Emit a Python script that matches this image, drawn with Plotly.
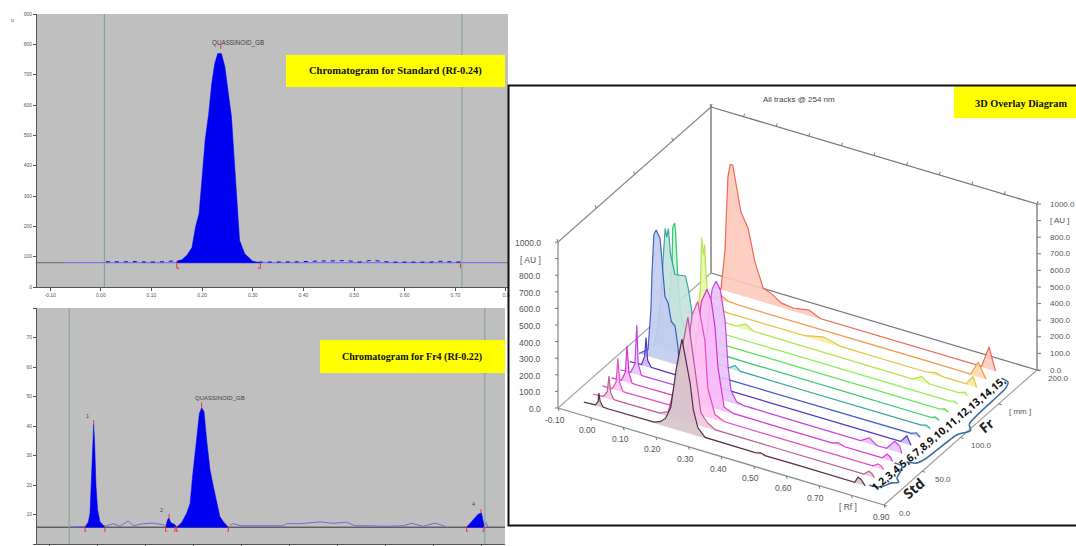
import plotly.graph_objects as go

W, H = 1076, 546

# ---------- left charts data ----------
std_tick_rf = [-0.10, 0.00, 0.10, 0.20, 0.30, 0.40, 0.50, 0.60, 0.70, 0.80]
std_tick_text = ["-0.10", "0.00", "0.10", "0.20", "0.30", "0.40", "0.50", "0.60", "0.70", "0.8"]
std_y_ticks = [0, 100, 200, 300, 400, 500, 600, 700, 800, 900]
std_limits = [0.007, 0.713]
std_base = 80
std_peak_rf = [0.15, 0.16, 0.17, 0.18, 0.187, 0.194, 0.199, 0.206, 0.213, 0.219, 0.225, 0.231, 0.238,
               0.245, 0.251, 0.258, 0.264, 0.269, 0.274, 0.284, 0.30, 0.315]
std_peak_au = [85, 90, 105, 130, 198, 242, 341, 484, 572, 671, 737, 770, 770,
               726, 649, 561, 407, 264, 154, 110, 85, 80]
std_noise_rf = [0.01, 0.03, 0.05, 0.07, 0.09, 0.12, 0.145, 0.32, 0.36, 0.39, 0.42, 0.45, 0.485, 0.51,
                0.535, 0.57, 0.61, 0.65, 0.67, 0.70, 0.715]
std_noise_au = [83, 82, 83, 84, 82, 83, 86, 82, 82, 83, 85, 86, 87, 82, 88, 82, 83, 82, 85, 82, 83]

fr_tick_rf = [-0.10, 0.00, 0.10, 0.20, 0.30, 0.40, 0.50, 0.60, 0.70, 0.80]
fr_y_ticks = [0, 100, 200, 300, 400, 500, 600, 700, 800]
fr_y_text = ["0", "10", "20", "30", "40", "50", "60", "70", ""]
fr_limits = [-0.058, 0.808]
fr_base = 57
fr_p1_rf = [-0.025, -0.018, -0.0146, -0.012, -0.009, -0.0069, -0.0049, -0.002, 0.0013, 0.006, 0.0167]
fr_p1_au = [57, 75, 105, 195, 330, 406, 341, 195, 116, 76, 57]
fr_p2_rf = [0.143, 0.147, 0.150, 0.1535, 0.1625, 0.166]
fr_p2_au = [57, 82, 88, 73, 65, 57]
fr_p3_rf = [0.166, 0.1764, 0.187, 0.194, 0.199, 0.2076, 0.2133, 0.218, 0.223, 0.2285, 0.2355, 0.2424,
            0.2493, 0.256, 0.263, 0.2736]
fr_p3_au = [57, 73, 105, 138, 228, 363, 442, 462, 448, 352, 251, 195, 138, 93, 76, 57]
fr_p4_rf = [0.770, 0.784, 0.794, 0.801, 0.805, 0.807]
fr_p4_au = [57, 82, 101, 105, 76, 57]
fr_noise_rf = [-0.053, -0.028, 0.020, 0.034, 0.048, 0.065, 0.076, 0.097, 0.117, 0.142, None,
               0.277, 0.284, 0.298, 0.326, 0.367, 0.388, 0.395, 0.423, 0.465, 0.492, 0.52, 0.5375,
               0.562, 0.603, 0.638, 0.655, 0.68, 0.704, 0.725, None, 0.805, 0.81, 0.815]
fr_noise_au = [58, 60, 62, 69, 60, 78, 62, 69, 71, 64, None,
               64, 69, 62, 62, 64, 62, 69, 69, 75, 70, 74, 62,
               62, 60, 62, 70, 60, 71, 60, None, 60, 72, 58]
fr_brackets = [(-0.025, -0.022), (0.0167, 0.014), (0.143, 0.146), (0.1625, 0.160), (0.166, 0.169), (0.2736, 0.271), (0.770, 0.773), (0.806, 0.803)]

# ---------- 3D overlay data : Rf / AU per track (front to back) ----------
rf_axis_ticks = [-0.10, 0.00, 0.10, 0.20, 0.30, 0.40, 0.50, 0.60, 0.70, 0.80, 0.90]
rf_axis_text = ["-0.10", "0.00", "0.10", "0.20", "0.30", "0.40", "0.50", "0.60", "0.70", "[ Rf ]", "0.90"]
au_axis_ticks = [0, 100, 200, 300, 400, 500, 600, 700, 800, 900, 1000]
au_axis_text = ["0.0", "100.0", "200.0", "300.0", "400.0", "500.0", "600.0", "700.0", "800.0", "[ AU ]", "1000.0"]
mm_axis_ticks = [0, 50, 100, 150, 200]
mm_axis_text = ["0.0", "50.0", "100.0", "[ mm ]", "200.0"]
track_mm = [15, 27, 39, 51, 63, 75, 87, 100, 112, 124, 136, 148.5, 160.7, 173, 185]
line_colors = ["#4a1a3a", "#b0508f", "#e040b8", "#d820c8", "#c030e0", "#4020c0", "#3050c0", "#20a090",
               "#20c060", "#40e040", "#80f040", "#b0e040", "#e0c030", "#f09040", "#ee5a40"]
fill_colors = ["#d8c4cc", "#f2c4e2", "#ffc4f2", "#f8bcf8", "#e8c4fa", "#ccb8f2", "#c2cdee", "#c4e2de",
               "#c4f2d4", "#ccf6c4", "#ddfab8", "#e6f8a8", "#f8eaa8", "#fcd8ac", "#fccabc"]

t01_rf = [-0.056, -0.03, -0.02, -0.012, -0.01, -0.006, 0.003, 0.02, 0.10, 0.16, 0.18, 0.195, 0.211, 0.227, 0.245, 0.27, 0.28, 0.294, 0.316, 0.40, 0.47, 0.487, 0.50, 0.60, 0.70, 0.775, 0.785, 0.795, 0.807]
t01_au = [0, 2, 5, 30, 82, 35, 5, 3, 4, 6, 22, 50, 127, 360, 555, 307, 150, 50, 5, 3, 3, 12, 3, 4, 3, 3, 40, 30, 0]
t02_rf = [-0.056, -0.025, -0.012, -0.007, -0.002, 0.008, 0.02, 0.10, 0.15, 0.175, 0.20, 0.226, 0.235, 0.26, 0.275, 0.296, 0.32, 0.50, 0.70, 0.775, 0.79, 0.80, 0.807]
t02_au = [0, 3, 40, 137, 40, 4, 3, 3, 6, 30, 240, 530, 633, 287, 80, 30, 4, 3, 3, 4, 30, 20, 0]
t03_rf = [-0.056, -0.025, -0.013, -0.008, -0.002, 0.008, 0.02, 0.10, 0.15, 0.175, 0.20, 0.22, 0.237, 0.259, 0.268, 0.29, 0.32, 0.50, 0.70, 0.775, 0.79, 0.80, 0.807]
t03_au = [0, 3, 50, 195, 50, 4, 3, 3, 6, 30, 280, 590, 680, 458, 175, 30, 4, 3, 3, 4, 25, 18, 0]
t04_rf = [-0.056, -0.025, -0.013, -0.008, -0.002, 0.008, 0.02, 0.10, 0.15, 0.175, 0.20, 0.22, 0.237, 0.25, 0.262, 0.271, 0.29, 0.32, 0.50, 0.62, 0.64, 0.66, 0.775, 0.79, 0.80, 0.807]
t04_au = [0, 3, 60, 220, 60, 4, 3, 3, 6, 30, 300, 620, 705, 650, 490, 255, 25, 4, 3, 3, 15, 3, 4, 35, 22, 0]
t05_rf = [-0.056, -0.025, -0.012, -0.006, -0.002, 0.008, 0.02, 0.10, 0.15, 0.17, 0.19, 0.205, 0.215, 0.225, 0.237, 0.25, 0.265, 0.274, 0.283, 0.30, 0.32, 0.50, 0.68, 0.707, 0.73, 0.76, 0.785, 0.80, 0.807]
t05_au = [0, 3, 60, 298, 70, 4, 3, 3, 6, 20, 100, 300, 500, 650, 705, 660, 480, 205, 72, 15, 5, 3, 3, 35, 3, 4, 60, 40, 0]
t06_rf = [-0.056, -0.02, -0.010, -0.006, -0.001, 0.01, 0.05, 0.20, 0.30, 0.45, 0.60, 0.70, 0.775, 0.794, 0.807]
t06_au = [0, 3, 60, 175, 40, 5, 3, 4, 3, 4, 3, 5, 5, 50, 0]
t07_rf = [-0.056, -0.028, -0.019, -0.016, -0.01, -0.003, 0.009, 0.018, 0.024, 0.034, 0.043, 0.055, 0.064, 0.067, 0.08, 0.20, 0.40, 0.60, 0.75, 0.78, 0.795, 0.807]
t07_au = [0, 40, 290, 500, 745, 775, 730, 530, 390, 355, 253, 229, 108, 12, 3, 3, 4, 3, 8, 8, 20, 0]
t08_rf = [-0.056, -0.04, -0.025, -0.012, -0.006, -0.001, 0.004, 0.01, 0.024, 0.056, 0.065, 0.075, 0.078, 0.09, 0.11, 0.13, 0.19, 0.208, 0.225, 0.40, 0.60, 0.78, 0.795, 0.807]
t08_au = [0, 3, 150, 550, 730, 680, 735, 590, 470, 480, 410, 290, 225, 100, 30, 8, 5, 30, 4, 3, 3, 4, 14, 0]
t09_rf = [-0.056, -0.03, -0.013, -0.011, -0.005, -0.002, 0.004, 0.012, 0.03, 0.05, 0.20, 0.40, 0.60, 0.78, 0.795, 0.807]
t09_au = [0, 3, 460, 680, 715, 660, 415, 200, 50, 8, 4, 3, 4, 3, 12, 0]
t10_rf = [-0.056, -0.025, -0.005, 0.015, 0.05, 0.25, 0.45, 0.65, 0.78, 0.795, 0.807]
t10_au = [0, 3, 35, 8, 3, 4, 3, 4, 4, 14, 0]
t11_rf = [-0.056, -0.025, -0.005, 0.015, 0.05, 0.25, 0.45, 0.65, 0.78, 0.795, 0.807]
t11_au = [0, 3, 35, 8, 3, 4, 5, 3, 4, 12, 0]
t12_rf = [-0.056, -0.02, -0.012, -0.008, -0.002, 0.001, 0.004, 0.012, 0.03, 0.10, 0.127, 0.15, 0.30, 0.50, 0.64, 0.667, 0.69, 0.78, 0.80, 0.807]
t12_au = [0, 20, 150, 476, 375, 440, 315, 100, 10, 6, 35, 6, 4, 3, 3, 35, 4, 3, 18, 0]
t13_rf = [-0.056, -0.025, -0.005, 0.015, 0.05, 0.28, 0.336, 0.39, 0.50, 0.65, 0.68, 0.71, 0.775, 0.796, 0.807]
t13_au = [0, 3, 30, 8, 3, 4, 30, 4, 3, 3, 15, 4, 4, 60, 0]
t14_rf = [-0.056, -0.025, -0.005, 0.015, 0.05, 0.20, 0.40, 0.60, 0.76, 0.783, 0.807]
t14_au = [0, 3, 30, 8, 3, 5, 4, 5, 3, 90, 0]
t15_rf = [-0.056, -0.034, -0.022, -0.013, -0.006, 0.002, 0.027, 0.049, 0.07, 0.095, 0.126, 0.15, 0.187, 0.236, 0.27, 0.45, 0.65, 0.765, 0.788, 0.808]
t15_au = [0, 5, 240, 690, 770, 770, 502, 418, 227, 85, 60, 27, 18, 34, 3, 4, 3, 4, 134, 0]
track_rf = [t01_rf, t02_rf, t03_rf, t04_rf, t05_rf, t06_rf, t07_rf, t08_rf, t09_rf, t10_rf, t11_rf, t12_rf, t13_rf, t14_rf, t15_rf]
track_au = [t01_au, t02_au, t03_au, t04_au, t05_au, t06_au, t07_au, t08_au, t09_au, t10_au, t11_au, t12_au, t13_au, t14_au, t15_au]

std_brace_rf = [0.815, 0.84, 0.85, 0.86, 0.875, 0.86, 0.85, 0.84, 0.815]
std_brace_mm = [17, 18, 21, 27, 30, 34, 43, 49, 50]
fr_brace_rf = [0.84, 0.865, 0.875, 0.885, 0.905, 0.885, 0.875, 0.865, 0.84]
fr_brace_mm = [55, 57, 65, 102, 111, 118, 170, 177, 179]


# ---------- projection of the oblique 3D box onto the page ----------
def proj(rf, mm, au):
    a = (rf + 0.10) / 1.0
    b = mm / 200.0
    return 558 + 326 * a + 153 * b, 408 + 97 * a - 135 * b - 0.166 * au


def proj_series(rf, mm, au):
    pts = [proj(r, mm, v) for r, v in zip(rf, au)]
    return [p[0] for p in pts], [p[1] for p in pts]


def dom_x(a, b):
    return [a / W, b / W]


def dom_y(top, bottom):
    return [1 - bottom / H, 1 - top / H]


fig = go.Figure()
BLUE = "#0000f0"
NOISE = "#6a6ae6"
RED = "#e23a3a"
GREY_V = "#7c9ca2"

# ---------- standard chromatogram ----------
xa, ya = "x", "y"
fig.add_trace(go.Scatter(x=[-0.126, -0.07], y=[std_base, std_base], mode="lines", line=dict(color="#666666", width=1), xaxis=xa, yaxis=ya))
fig.add_trace(go.Scatter(x=[-0.07, 0.804], y=[std_base, std_base], mode="lines", line=dict(color=NOISE, width=1), xaxis=xa, yaxis=ya))
fig.add_trace(go.Scatter(x=std_noise_rf, y=std_noise_au, mode="lines", line=dict(color=BLUE, width=1, dash="4px,5px"), xaxis=xa, yaxis=ya))
fig.add_trace(go.Scatter(x=std_peak_rf + std_peak_rf[::-1], y=std_peak_au + [std_base] * len(std_peak_rf), mode="lines", fill="toself", fillcolor=BLUE, line=dict(color=BLUE, width=0.5), xaxis=xa, yaxis=ya))
for r in std_limits:
    fig.add_trace(go.Scatter(x=[r, r], y=[0, 900], mode="lines", line=dict(color=GREY_V, width=1), xaxis=xa, yaxis=ya))
for xs, ys in [([0.155, 0.15, 0.15], [62, 62, 85]), ([0.31, 0.315, 0.315], [62, 62, 80]), ([0.71, 0.71], [62, 78]), ([0.237, 0.237], [785, 800])]:
    fig.add_trace(go.Scatter(x=xs, y=ys, mode="lines", line=dict(color=RED, width=1), xaxis=xa, yaxis=ya))

# ---------- Fr4 chromatogram ----------
xa, ya = "x2", "y2"
fig.add_trace(go.Scatter(x=[-0.125, 0.85], y=[fr_base, fr_base], mode="lines", line=dict(color="#333333", width=1), xaxis=xa, yaxis=ya))
fig.add_trace(go.Scatter(x=fr_noise_rf, y=fr_noise_au, mode="lines", line=dict(color=NOISE, width=1), xaxis=xa, yaxis=ya))
for pr, pa in [(fr_p1_rf, fr_p1_au), (fr_p2_rf, fr_p2_au), (fr_p3_rf, fr_p3_au), (fr_p4_rf, fr_p4_au)]:
    fig.add_trace(go.Scatter(x=pr + pr[::-1], y=pa + [fr_base] * len(pr), mode="lines", fill="toself", fillcolor=BLUE, line=dict(color=BLUE, width=0.5), xaxis=xa, yaxis=ya))
for r in fr_limits:
    fig.add_trace(go.Scatter(x=[r, r], y=[0, 800], mode="lines", line=dict(color=GREY_V, width=1), xaxis=xa, yaxis=ya))
for r0, r1 in fr_brackets:
    fig.add_trace(go.Scatter(x=[r1, r0, r0], y=[43, 43, 60], mode="lines", line=dict(color=RED, width=1), xaxis=xa, yaxis=ya))
for r, v0, v1 in [(-0.0069, 406, 420), (0.150, 88, 102), (0.218, 462, 480), (0.80, 105, 118)]:
    fig.add_trace(go.Scatter(x=[r, r], y=[v0, v1], mode="lines", line=dict(color=RED, width=1), xaxis=xa, yaxis=ya))

# ---------- 3D box ----------
xa, ya = "x3", "y3"


def edge(p0, p1, color="#8c8c8c", width=1.2):
    a0, a1 = proj(*p0), proj(*p1)
    fig.add_trace(go.Scatter(x=[a0[0], a1[0]], y=[a0[1], a1[1]], mode="lines", line=dict(color=color, width=width), xaxis=xa, yaxis=ya))


def ticks(points, dx, dy, color="#777777"):
    xs, ys = [], []
    for p in points:
        q = proj(*p)
        xs += [q[0], q[0] + dx, None]
        ys += [q[1], q[1] + dy, None]
    fig.add_trace(go.Scatter(x=xs, y=ys, mode="lines", line=dict(color=color, width=1), xaxis=xa, yaxis=ya))


edge((-0.1, 0, 0), (-0.1, 200, 0), "#aaaaaa", 1.2)
edge((-0.1, 200, 0), (0.9, 200, 0), "#777777", 1.3)
edge((-0.1, 200, 0), (-0.1, 200, 1000), "#a0a0a0", 2)
edge((-0.1, 0, 1000), (-0.1, 200, 1000), "#8a8a8a", 1.2)
edge((-0.1, 200, 1000), (0.9, 200, 1000), "#777777", 1.3)
edge((0.9, 200, 0), (0.9, 200, 1000), "#777777", 1.3)
edge((-0.1, 0, 0), (-0.1, 0, 1000), "#8c8c8c", 1.3)
edge((-0.1, 0, 0), (0.9, 0, 0), "#8c8c8c", 1.3)
edge((0.9, 0, 0), (0.9, 200, 0), "#a0a0a0", 1.2)
ticks([(-0.1, 0, v) for v in au_axis_ticks], -3, 0)
ticks([(0.9, 200, v) for v in au_axis_ticks], 4, 0)
ticks([(r, 0, 0) for r in rf_axis_ticks], 1, 3)
ticks([(r, 200, 1000) for r in rf_axis_ticks], 1, -3)
ticks([(0.9, m, 0) for m in mm_axis_ticks], 3, 1)
ticks([(-0.1, m, 1000) for m in mm_axis_ticks], -1, -3)

for i in range(len(track_mm) - 1, -1, -1):
    px, py = proj_series(track_rf[i], track_mm[i], track_au[i])
    fig.add_trace(go.Scatter(x=px, y=py, mode="lines", fill="toself", fillcolor=fill_colors[i],
                             line=dict(color=line_colors[i], width=1.2), opacity=0.9, xaxis=xa, yaxis=ya))

for rr, mm_ in [(std_brace_rf, std_brace_mm), (fr_brace_rf, fr_brace_mm)]:
    ex = [proj(r, m, 0) for r, m in zip(rr, mm_)]
    fig.add_trace(go.Scatter(x=[p[0] for p in ex], y=[p[1] for p in ex], mode="lines",
                             line=dict(color="#3c6e9e", width=1.6, shape="spline", smoothing=0.7), xaxis=xa, yaxis=ya))

# ---------- annotations ----------
ann = []


def note(x, y, text, size=8, color="#555555", family="Liberation Sans", xanchor="center", angle=0, xref="x3", yref="y3", xshift=0, yshift=0, bold=False):
    ann.append(dict(x=x, y=y, xref=xref, yref=yref, text=f"<b>{text}</b>" if bold else text, showarrow=False,
                    font=dict(size=size, color=color, family=family), xanchor=xanchor, yanchor="middle",
                    textangle=angle, xshift=xshift, yshift=yshift))


for v, t in zip(au_axis_ticks, au_axis_text):
    q = proj(-0.1, 0, v)
    note(q[0], q[1], t, size=8.5, xanchor="right", xshift=-15, yshift=-1)
    q = proj(0.9, 200, v)
    note(q[0], q[1], t, size=8, xanchor="left", xshift=11)
for r, t in zip(rf_axis_ticks, rf_axis_text):
    q = proj(r, 0, 0)
    note(q[0], q[1], t, size=8.5, xshift=-3, yshift=-12)
for m, t in zip(mm_axis_ticks, mm_axis_text):
    q = proj(0.9, m, 0)
    note(q[0], q[1], t, size=8, xshift=21, yshift=-8)

note(799, 99, "All tracks @ 254 nm", size=8, color="#444444")
note(938, 434, "1,2,3,4,5,6,7,8,9,10,11,12,13,14,15,", size=10.5, color="#111111", family="Noto Sans", angle=-40, bold=True)
note(913, 488, "Std", size=14, color="#222222", family="Noto Sans", angle=-40, bold=True)
note(986, 425, "Fr", size=14, color="#222222", family="Noto Sans", angle=-40, bold=True)
note(395, 71, "Chromatogram for Standard (Rf-0.24)", size=10.5, color="#111111", family="Liberation Serif", bold=True)
note(412, 356.5, "Chromatogram for Fr4 (Rf-0.22)", size=10, color="#111111", family="Liberation Serif", bold=True)
note(1021, 103, "3D Overlay Diagram", size=10.3, color="#111111", family="Liberation Serif", bold=True)
note(12, 20, "u", size=5, color="#444444")
note(0.271, 805, "QUASSINOID_GB", size=6.3, color="#444444", xref="x", yref="y")
note(0.218, 495, "QUASSINOID_GB", size=6, color="#444444", xref="x2", yref="y2", xshift=18)
note(-0.0205, 435, "1", size=5.5, color="#444444", xref="x2", yref="y2")
note(0.135, 115, "2", size=5.5, color="#444444", xref="x2", yref="y2")
note(0.785, 135, "4", size=5.5, color="#444444", xref="x2", yref="y2")

# ---------- shapes ----------
shapes = [
    dict(type="rect", xref="x domain", yref="y domain", x0=0, x1=1, y0=0, y1=1, fillcolor="#bfbfbf", line_width=0, layer="below"),
    dict(type="rect", xref="x2 domain", yref="y2 domain", x0=0, x1=1, y0=0, y1=1, fillcolor="#bfbfbf", line_width=0, layer="below"),
    dict(type="rect", xref="x3", yref="y3", x0=286, x1=505, y0=55, y1=87, fillcolor="#ffff00", line_width=0, layer="above"),
    dict(type="rect", xref="x3", yref="y3", x0=320, x1=505, y0=340, y1=373, fillcolor="#ffff00", line_width=0, layer="above"),
    dict(type="rect", xref="x3", yref="y3", x0=954, x1=1080, y0=86, y1=118, fillcolor="#ffff00", line_width=0, layer="above"),
    dict(type="rect", xref="x3", yref="y3", x0=508.5, x1=1085, y0=85.5, y1=525.5, line=dict(color="#111111", width=2), layer="above"),
]

AX = dict(showgrid=False, zeroline=False, showline=True, linecolor="#555555", linewidth=1, ticks="outside", automargin=False,
          ticklen=3, tickcolor="#555555", tickwidth=1, tickfont=dict(size=5, color="#555555", family="Liberation Sans"))

fig.update_layout(
    width=W, height=H, autosize=False, margin=dict(l=0, r=0, t=0, b=0), showlegend=False,
    paper_bgcolor="white", plot_bgcolor="rgba(0,0,0,0)", annotations=ann, shapes=shapes,
    xaxis=dict(AX, domain=dom_x(37, 508), range=[-0.126, 0.804], tickmode="array", tickvals=std_tick_rf, ticktext=std_tick_text, anchor="y"),
    yaxis=dict(AX, domain=dom_y(14, 287), range=[0, 900], tickmode="array", tickvals=std_y_ticks, ticktext=[str(v) for v in std_y_ticks], anchor="x"),
    xaxis2=dict(AX, domain=dom_x(37, 505), range=[-0.125, 0.85], tickmode="array", tickvals=fr_tick_rf, showticklabels=False, anchor="y2"),
    yaxis2=dict(AX, domain=dom_y(308, 544), range=[0, 800], tickmode="array", tickvals=fr_y_ticks, ticktext=fr_y_text, anchor="x2"),
    xaxis3=dict(domain=[0, 1], range=[0, W], visible=False, anchor="y3", automargin=False),
    yaxis3=dict(domain=[0, 1], range=[H, 0], visible=False, anchor="x3", automargin=False),
)

fig.write_html("out.html", config={"displayModeBar": False}, post_script="document.body.style.margin='0';")
